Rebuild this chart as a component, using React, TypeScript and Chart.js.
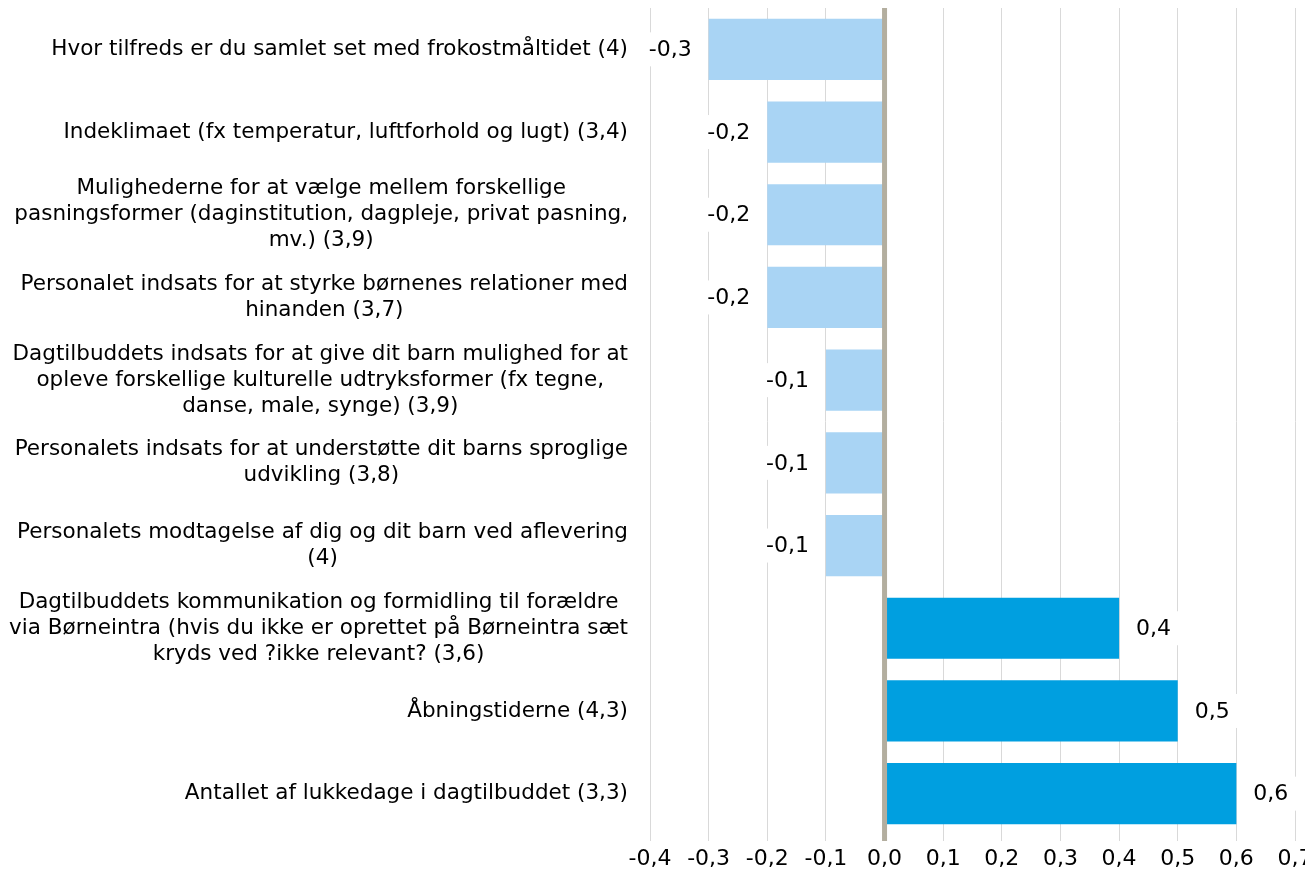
import React, { useEffect, useRef } from "react";
import { Chart, registerables } from "chart.js";

Chart.register(...registerables);

// ---- data ----
const categoryLines: string[][] = [
  ["Hvor tilfreds er du samlet set med frokostmåltidet (4)"],
  ["Indeklimaet (fx temperatur, luftforhold og lugt) (3,4)"],
  [
    "Mulighederne for at vælge mellem forskellige",
    "pasningsformer (daginstitution, dagpleje, privat pasning,",
    "mv.) (3,9)",
  ],
  ["Personalet indsats for at styrke børnenes relationer med", "hinanden (3,7)"],
  [
    "Dagtilbuddets indsats for at give dit barn mulighed for at",
    "opleve forskellige kulturelle udtryksformer (fx tegne,",
    "danse, male, synge) (3,9)",
  ],
  ["Personalets indsats for at understøtte dit barns sproglige", "udvikling (3,8)"],
  ["Personalets modtagelse af dig og dit barn ved aflevering", "(4)"],
  [
    "Dagtilbuddets kommunikation og formidling til forældre",
    "via Børneintra (hvis du ikke er oprettet på Børneintra sæt",
    "kryds ved ?ikke relevant? (3,6)",
  ],
  ["Åbningstiderne (4,3)"],
  ["Antallet af lukkedage i dagtilbuddet (3,3)"],
];
const values: number[] = [-0.3, -0.2, -0.2, -0.2, -0.1, -0.1, -0.1, 0.4, 0.5, 0.6];
const xMin = -0.4;
const xMax = 0.7;
const xStep = 0.1;

const NEG_COLOR = "#a9d4f4";
const POS_COLOR = "#009fe0";
const ZERO_COLOR = "#b3ae9f";
const GRID_COLOR = "#d9d9d9";
const FONT_FAMILY = "'DejaVu Sans', Verdana, sans-serif";
const FONT_SIZE = 22;
const CAT_FONT_SIZE = 21.5;
const LINE_H = 26;

const fmt = (v: number) => {
  if (Math.abs(v) < 1e-9) return "0,0";
  return v.toFixed(1).replace(".", ",");
};

const labelsPlugin = {
  id: "customLabels",
  afterDraw(chart: any) {
    const { ctx, chartArea } = chart;
    const yScale = chart.scales.y;
    ctx.save();
    ctx.font = `${CAT_FONT_SIZE}px ${FONT_FAMILY}`;
    ctx.fillStyle = "#000";
    ctx.textBaseline = "middle";
    ctx.textAlign = "center";
    const right = chartArea.left - 22;
    categoryLines.forEach((lines, i) => {
      const cy = yScale.getPixelForValue(i);
      const w = Math.max(...lines.map((l) => ctx.measureText(l).width));
      const cx = right - w / 2;
      lines.forEach((l, j) => {
        ctx.fillText(l, cx, cy + (j - (lines.length - 1) / 2) * LINE_H);
      });
    });
    ctx.restore();
  },
};

const barDecorPlugin = {
  id: "barDecor",
  afterDatasetsDraw(chart: any) {
    const { ctx, chartArea } = chart;
    const xScale = chart.scales.x;
    const x0 = xScale.getPixelForValue(0);
    ctx.save();
    // zero line
    ctx.fillStyle = ZERO_COLOR;
    ctx.fillRect(x0 - 2.5, chartArea.top, 5, chartArea.bottom - chartArea.top + 6);
    // value labels
    const meta = chart.getDatasetMeta(0);
    ctx.font = `${FONT_SIZE}px ${FONT_FAMILY}`;
    ctx.textBaseline = "middle";
    meta.data.forEach((bar: any, i: number) => {
      const v = values[i];
      const txt = fmt(v);
      const w = ctx.measureText(txt).width;
      const gap = 17;
      let left: number;
      if (v < 0) left = bar.x - gap - w;
      else left = bar.x + gap;
      ctx.fillStyle = "#ffffff";
      ctx.fillRect(left - 9, bar.y - 17, w + 18, 34);
      ctx.fillStyle = "#000";
      ctx.textAlign = "left";
      ctx.fillText(txt, left, bar.y + 1);
    });
    ctx.restore();
  },
};

export default function App() {
  const canvasRef = useRef<HTMLCanvasElement | null>(null);

  useEffect(() => {
    if (!canvasRef.current) return;
    const chart = new Chart(canvasRef.current, {
      type: "bar",
      data: {
        labels: categoryLines.map((l) => l.join(" ")),
        datasets: [
          {
            data: values,
            backgroundColor: values.map((v) => (v < 0 ? NEG_COLOR : POS_COLOR)),
            borderWidth: 0,
            categoryPercentage: 1,
            barPercentage: 0.74,
          },
        ],
      },
      options: {
        indexAxis: "y",
        animation: false,
        responsive: false,
        layout: { padding: { left: 0, right: 18, top: 0, bottom: 0 } },
        plugins: {
          legend: { display: false },
          tooltip: { enabled: false },
        },
        scales: {
          x: {
            type: "linear",
            min: xMin,
            max: xMax,
            border: { display: false },
            grid: {
              color: (c: any) =>
                c.tick && Math.abs(c.tick.value) < 1e-9 ? "rgba(0,0,0,0)" : GRID_COLOR,
              lineWidth: 1,
              drawTicks: true,
              tickLength: 6,
            },
            ticks: {
              stepSize: xStep,
              padding: 5,
              color: "#000",
              font: { family: FONT_FAMILY, size: FONT_SIZE },
              callback: (v: any) => fmt(Number(v)),
              maxRotation: 0,
              autoSkip: false,
            },
            afterFit: (scale: any) => {
              scale.height = 32;
              scale.paddingLeft = 0;
              scale.paddingRight = 0;
            },
          },
          y: {
            border: { display: false },
            grid: { display: false },
            ticks: { display: false },
            afterFit: (scale: any) => {
              scale.width = 642;
            },
          },
        },
      },
      plugins: [barDecorPlugin, labelsPlugin],
    } as any);
    return () => chart.destroy();
  }, []);

  return (
    <div style={{ width: 1305, height: 859 }}>
      <canvas ref={canvasRef} width={1305} height={859} style={{ display: "block" }} />
    </div>
  );
}
